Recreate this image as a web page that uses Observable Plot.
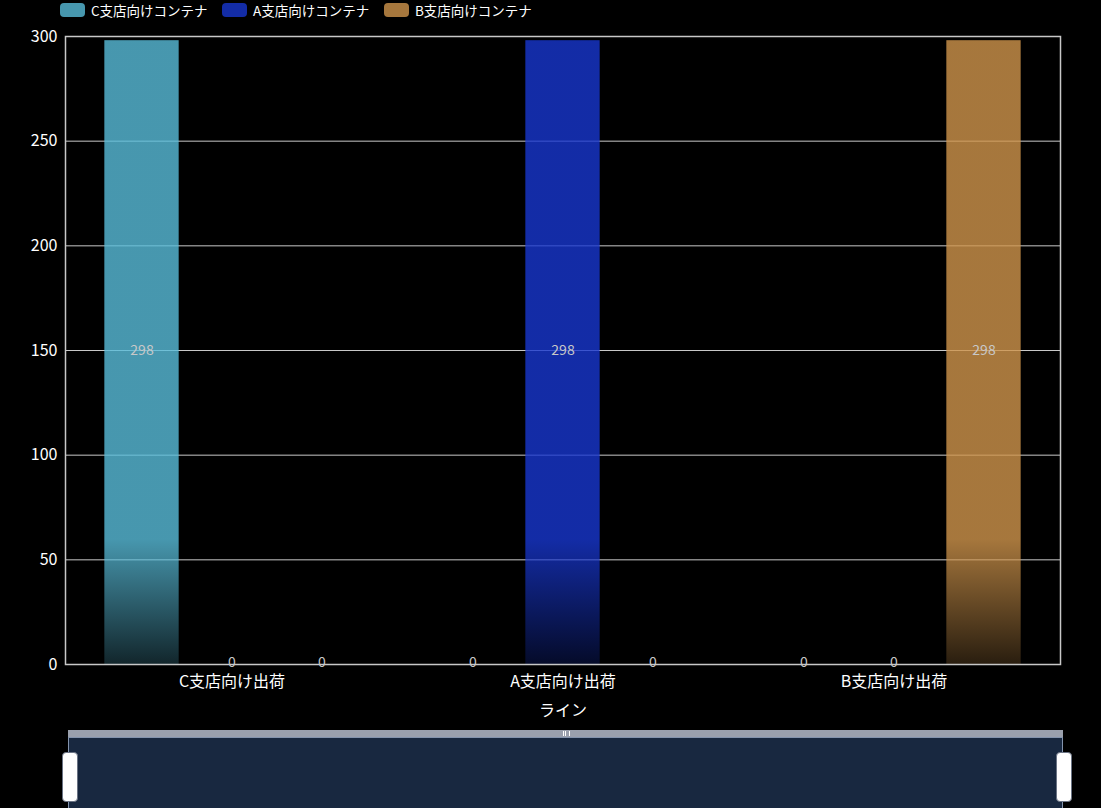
<!DOCTYPE html>
<html><head><meta charset="utf-8">
<script src="https://cdn.jsdelivr.net/npm/d3@7"></script>
<script src="https://cdn.jsdelivr.net/npm/@observablehq/plot@0.6"></script>
<style>
html,body{margin:0;padding:0;background:#000;width:1101px;height:808px;overflow:hidden;font-family:"Noto Sans CJK JP","Noto Sans",sans-serif;}
#legend{height:22px;position:relative;}
.li{position:absolute;top:2px;display:flex;align-items:center;color:#fff;font-size:13.5px;line-height:16px;}
.sw{width:25px;height:14px;border-radius:4px;margin-right:6px;}
#chart{position:relative;height:708px;}
#slider{position:absolute;left:68px;top:730px;width:995px;height:80px;}
#slider .bar{height:7px;background:#9aa0ad;position:relative;}
#slider .bar span{position:absolute;left:495px;top:1px;width:5px;height:5px;border-left:1px solid #fff;border-right:1px solid #fff;}
#slider .bar span::after{content:"";position:absolute;left:1px;top:0;width:1px;height:5px;background:#fff;}
#slider .body{position:absolute;top:7px;left:0;right:0;height:80px;background:#182840;border:1px solid #8393ad;border-bottom:none;box-sizing:border-box;}
.handle{position:absolute;top:752px;width:14px;height:48px;background:#fff;border:1px solid #6a7384;border-radius:4px;}
</style>
</head><body>
<div id="legend"></div>
<div id="chart"></div>
<div id="slider"><div class="bar"><span></span></div><div class="body"></div></div>
<div class="handle" style="left:62px"></div>
<div class="handle" style="left:1056px"></div>
<script>
const categories = ["C支店向け出荷", "A支店向け出荷", "B支店向け出荷"];
const seriesNames = ["C支店向けコンテナ", "A支店向けコンテナ", "B支店向けコンテナ"];
const seriesC = [298, 0, 0];
const seriesA = [0, 298, 0];
const seriesB = [0, 0, 298];
const yTicks = [0, 50, 100, 150, 200, 250, 300];
const xTitle = "ライン";
const colors = ["#59bdda", "#1837d0", "#d0954c"];
const legendColors = ["#4797ae", "#132ca6", "#a6773d"];
const offsets = [-90, 0, 90];

const seriesValues = [seriesC, seriesA, seriesB];
const data = seriesValues.map((vals, s) => categories.map((c, i) => ({category: c, series: seriesNames[s], value: vals[i]})));

// legend
const legend = document.getElementById("legend");
const legendX = [60, 222, 384];
seriesNames.forEach((n, i) => {
  const d = document.createElement("div");
  d.className = "li";
  d.style.left = legendX[i] + "px";
  d.innerHTML = `<div class="sw" style="background:${legendColors[i]}"></div><span>${n}</span>`;
  legend.appendChild(d);
});

const inset = (995 / 3 - 75) / 2;
const marks = [Plot.ruleY(yTicks, {stroke: "#c8c8c8", strokeWidth: 1})];
data.forEach((rows, s) => {
  marks.push(Plot.barY(rows.filter(r => r.value > 0), {
    x: "category", y: "value", fill: `url(#grad${s})`, fillOpacity: 0.8,
    dx: offsets[s], insetLeft: inset, insetRight: inset
  }));
});
data.forEach((rows, s) => {
  marks.push(Plot.text(rows, {
    x: "category", y: d => d.value / 2, text: d => String(d.value), dx: offsets[s], dy: -2,
    fill: "#c8c8c8", fontSize: 14
  }));
});
marks.push(Plot.frame({stroke: "#c8c8c8", strokeWidth: 1.5}));
marks.push(Plot.text([xTitle], {frameAnchor: "bottom", dy: 51, fill: "#fff", fontSize: 16}));

const plot = Plot.plot({
  width: 1101, height: 708,
  marginTop: 14, marginLeft: 65, marginRight: 41, marginBottom: 66,
  style: {background: "#000", color: "#fff", fontSize: "16px", fontFamily: '"Noto Sans CJK JP","Noto Sans",sans-serif'},
  x: {type: "band", domain: categories, padding: 0, tickSize: 0, tickPadding: 11, label: null},
  y: {domain: [0, 300], ticks: yTicks, tickSize: 0, tickPadding: 8, label: null},
  marks
});

const svg = d3.select(plot.tagName.toLowerCase() === "svg" ? plot : plot.querySelector("svg"));
const defs = svg.insert("defs", ":first-child");
colors.forEach((c, i) => {
  const g = defs.append("linearGradient").attr("id", "grad" + i).attr("x1", 0).attr("y1", 0).attr("x2", 0).attr("y2", 1);
  g.append("stop").attr("offset", 0).attr("stop-color", c).attr("stop-opacity", 1);
  g.append("stop").attr("offset", 0.8).attr("stop-color", c).attr("stop-opacity", 1);
  g.append("stop").attr("offset", 1).attr("stop-color", c).attr("stop-opacity", 0.25);
});
document.getElementById("chart").appendChild(plot);
</script>
</body></html>
